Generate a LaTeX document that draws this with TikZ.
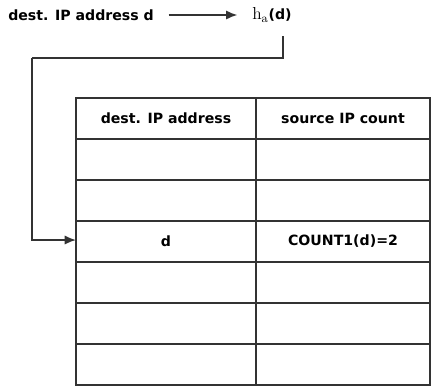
\documentclass[tikz,border=0pt]{standalone}
\usepackage{fontspec}
\setsansfont{DejaVu Sans}
\usetikzlibrary{arrows.meta}
\begin{document}
\begin{tikzpicture}[x=0.75pt,y=-0.75pt,
  ln/.style={line width=1.3pt,draw=black!80},
  arr/.style={ln,-{Latex[length=8.5pt,width=7pt]}},
  lbl/.style={font=\sffamily\bfseries\fontsize{10.6pt}{12pt}\selectfont,inner sep=0pt},
  cell/.style={lbl,minimum width=135pt,minimum height=30.75pt}]
\useasboundingbox (0,0) rectangle (431,387);
% top line
\node[lbl,anchor=west] (src) at (8,15) {dest. IP address d};
\node[inner sep=0pt,anchor=west] (ha) at (252,15) {\fontsize{13pt}{14pt}\selectfont$\mathrm{h}_{\mathrm{a}}$\sffamily\bfseries\fontsize{10.6pt}{12pt}\selectfont(d)};
\draw[arr] ([xshift=11pt]src.east) -- ([xshift=-11pt]ha.west);
% table
\foreach \y in {98,139,180,221,262,303,344}{
  \draw[ln] (76,\y) rectangle (430,\y+41);
}
\draw[ln] (256,98) -- (256,385);
\node[cell] (h1) at (166,118.5) {dest. IP address};
\node[cell] (h2) at (343,118.5) {source IP count};
\node[cell] (r1) at (166,241.5) {d};
\node[cell] (r2) at (343,241.5) {COUNT1(d)=2};
\coordinate (rw) at (76,240);
% connector
\coordinate (hb) at (283,36);
\coordinate (bend) at (32,58);
\draw[ln] (hb) |- (bend);
\draw[arr] (bend) |- (rw);
\end{tikzpicture}
\end{document}
